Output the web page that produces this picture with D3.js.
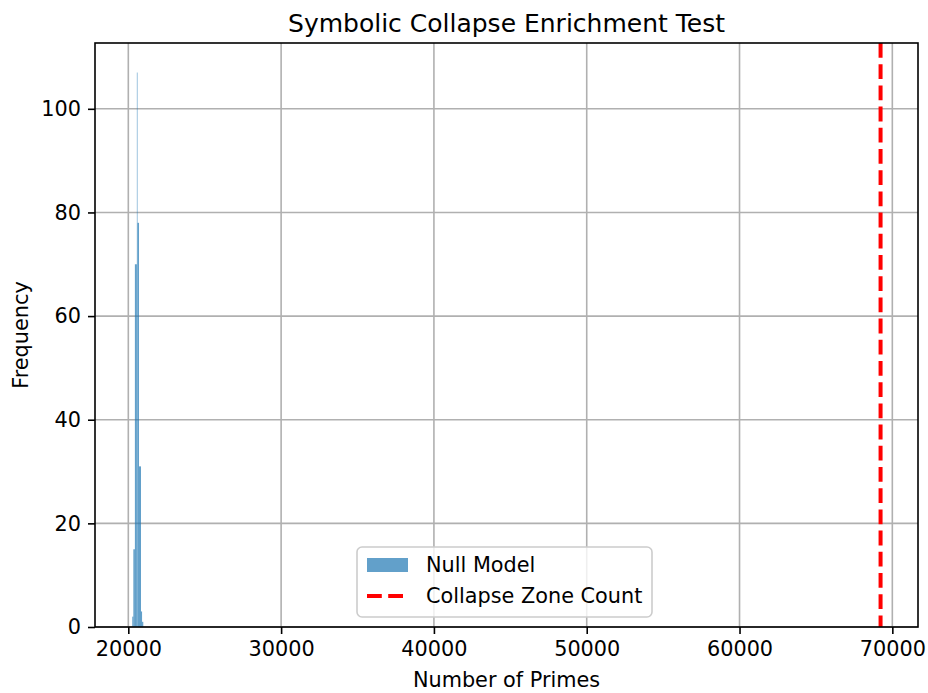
<!DOCTYPE html>
<html>
<head>
<meta charset="utf-8">
<script src="https://cdn.jsdelivr.net/npm/d3@7"></script>
<style>
  body { margin: 0; background: #fff; }
  text { font-family: "DejaVu Sans", sans-serif; fill: #000; }
</style>
</head>
<body>
<div id="wrapper"></div>
<script>
// histogram of the null model (bin edges and counts)
const binEdges = [20260, 20330, 20430, 20560, 20600, 20700, 20830, 20900, 20980];
const binCounts = [2, 15, 70, 107, 78, 31, 3, 1];
const collapseCount = 69230;
const xTicks = [20000, 30000, 40000, 50000, 60000, 70000];
const yTicks = [0, 20, 40, 60, 80, 100];
const xDomain = [17820, 71680];
const yDomain = [0, 112.7];

const bins = binCounts.map((c, i) => ({x0: binEdges[i], x1: binEdges[i + 1], count: c}));

const fontSize = "20.8px";

const dimensions = {
    width: 928,
    height: 693,
    margin: {top: 43, right: 10, bottom: 66, left: 95}
};
dimensions.bounded_width = dimensions.width - dimensions.margin.left - dimensions.margin.right;
dimensions.bounded_height = dimensions.height - dimensions.margin.top - dimensions.margin.bottom;

const wrapper = d3.select("#wrapper")
    .append("svg")
    .attr("width", dimensions.width)
    .attr("height", dimensions.height);

const bounds = wrapper.append("g")
    .attr("transform", `translate(${dimensions.margin.left},${dimensions.margin.top})`);

const x_scale = d3.scaleLinear()
    .domain(xDomain)
    .range([0, dimensions.bounded_width]);

const y_scale = d3.scaleLinear()
    .domain(yDomain)
    .range([dimensions.bounded_height, 0]);

// grid
bounds.append("g")
    .selectAll("line")
    .data(xTicks)
    .join("line")
    .attr("x1", d => x_scale(d)).attr("x2", d => x_scale(d))
    .attr("y1", 0).attr("y2", dimensions.bounded_height)
    .attr("stroke", "#b0b0b0").attr("stroke-width", 1.6);
bounds.append("g")
    .selectAll("line")
    .data(yTicks)
    .join("line")
    .attr("x1", 0).attr("x2", dimensions.bounded_width)
    .attr("y1", d => y_scale(d)).attr("y2", d => y_scale(d))
    .attr("stroke", "#b0b0b0").attr("stroke-width", 1.6);

// histogram bars
bounds.append("g")
    .selectAll("rect")
    .data(bins)
    .join("rect")
    .attr("x", d => x_scale(d.x0))
    .attr("width", d => x_scale(d.x1) - x_scale(d.x0))
    .attr("y", d => y_scale(d.count))
    .attr("height", d => y_scale(0) - y_scale(d.count))
    .attr("fill", "#1f77b4")
    .attr("fill-opacity", 0.7);

// collapse zone count
bounds.append("line")
    .attr("x1", x_scale(collapseCount)).attr("x2", x_scale(collapseCount))
    .attr("y1", 0).attr("y2", dimensions.bounded_height)
    .attr("stroke", "red").attr("stroke-width", 4)
    .attr("stroke-dasharray", "14.8 6.4");

// frame
bounds.append("rect")
    .attr("width", dimensions.bounded_width)
    .attr("height", dimensions.bounded_height)
    .attr("fill", "none")
    .attr("stroke", "#000").attr("stroke-width", 1.6);

// axes
const x_axis_gen = d3.axisBottom(x_scale).tickValues(xTicks).tickSize(7).tickPadding(7).tickFormat(d3.format("d"));
const x_axis = bounds.append("g")
    .attr("transform", `translate(0,${dimensions.bounded_height})`)
    .call(x_axis_gen);

const y_axis_gen = d3.axisLeft(y_scale).tickValues(yTicks).tickSize(7).tickPadding(7).tickFormat(d3.format("d"));
const y_axis = bounds.append("g")
    .call(y_axis_gen);

[x_axis, y_axis].forEach(ax => {
    ax.select(".domain").remove();
    ax.selectAll(".tick line").attr("stroke", "#000").attr("stroke-width", 1.6);
    ax.selectAll(".tick text")
        .attr("fill", "#000")
        .style("font-family", "DejaVu Sans, sans-serif")
        .style("font-size", fontSize);
});

// labels
wrapper.append("text")
    .attr("x", dimensions.margin.left + dimensions.bounded_width / 2)
    .attr("y", 32)
    .attr("text-anchor", "middle")
    .style("font-size", "25px")
    .text("Symbolic Collapse Enrichment Test");

wrapper.append("text")
    .attr("x", dimensions.margin.left + dimensions.bounded_width / 2)
    .attr("y", 687)
    .attr("text-anchor", "middle")
    .style("font-size", fontSize)
    .text("Number of Primes");

wrapper.append("text")
    .attr("transform", `translate(28,${dimensions.margin.top + dimensions.bounded_height / 2}) rotate(-90)`)
    .attr("text-anchor", "middle")
    .style("font-size", fontSize)
    .text("Frequency");

// legend
const legend = wrapper.append("g")
    .attr("transform", "translate(357,547)");
legend.append("rect")
    .attr("width", 295).attr("height", 70)
    .attr("rx", 5)
    .attr("fill", "#fff").attr("fill-opacity", 0.8)
    .attr("stroke", "#cccccc").attr("stroke-width", 1.6);
legend.append("rect")
    .attr("x", 10).attr("y", 11)
    .attr("width", 41).attr("height", 14)
    .attr("fill", "#1f77b4").attr("fill-opacity", 0.7);
legend.append("line")
    .attr("x1", 10).attr("x2", 51)
    .attr("y1", 49).attr("y2", 49)
    .attr("stroke", "red").attr("stroke-width", 4)
    .attr("stroke-dasharray", "14.8 6.4");
legend.append("text")
    .attr("x", 69).attr("y", 25)
    .style("font-size", fontSize)
    .text("Null Model");
legend.append("text")
    .attr("x", 69).attr("y", 56)
    .style("font-size", fontSize)
    .text("Collapse Zone Count");
</script>
</body>
</html>
